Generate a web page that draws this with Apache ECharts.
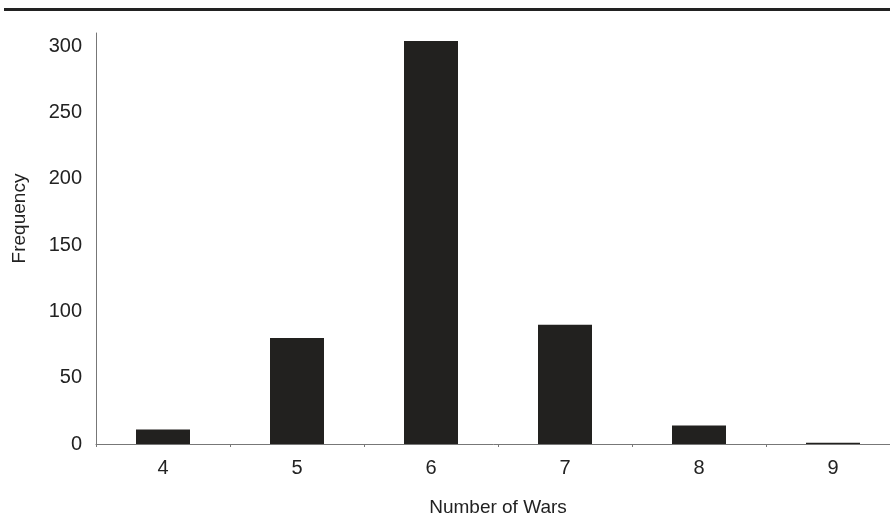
<!DOCTYPE html>
<html>
<head>
<meta charset="utf-8">
<script src="https://cdn.jsdelivr.net/npm/echarts@6/dist/echarts.min.js"></script>
<style>
html,body{margin:0;padding:0;background:#fff;}
#chart{width:890px;height:518px;}
</style>
</head>
<body>
<div id="chart"></div>
<script>
const categories = ['4', '5', '6', '7', '8', '9'];
const frequency = [11, 80, 304, 90, 14, 1];
const yTicks = [0, 50, 100, 150, 200, 250, 300];

const chart = echarts.init(document.getElementById('chart'), null, {renderer: 'canvas'});
const font = 'Liberation Sans, Arial, Helvetica, sans-serif';
chart.setOption({
  animation: false,
  graphic: [{
    type: 'rect',
    shape: {x: 4, y: 8, width: 890, height: 3},
    style: {fill: '#222'}
  }],
  grid: {left: 96, top: 33, width: 804, height: 411, containLabel: false, outerBoundsMode: 'none'},
  xAxis: {
    type: 'category',
    data: categories,
    name: 'Number of Wars',
    nameLocation: 'middle',
    nameGap: 54,
    nameTextStyle: {fontFamily: font, fontSize: 19, color: '#222'},
    axisLine: {lineStyle: {color: '#777', width: 1}},
    axisTick: {show: true, length: 3, inside: false, lineStyle: {color: '#777'}},
    axisLabel: {fontFamily: font, fontSize: 20, color: '#222', margin: 14}
  },
  yAxis: {
    type: 'value',
    min: 0,
    max: 310,
    interval: 50,
    name: 'Frequency',
    nameLocation: 'middle',
    nameGap: 67,
    nameRotate: 90,
    nameTextStyle: {fontFamily: font, fontSize: 19, color: '#222', padding: [0, 0, 0, 40]},
    axisLine: {show: true, lineStyle: {color: '#777', width: 1}},
    axisTick: {show: false},
    splitLine: {show: false},
    axisLabel: {
      fontFamily: font, fontSize: 20, color: '#222', margin: 14,
      showMaxLabel: false,
      formatter: function (v) { return yTicks.indexOf(v) >= 0 ? String(v) : ''; }
    }
  },
  series: [{
    type: 'bar',
    data: frequency,
    barWidth: 54,
    itemStyle: {color: '#22211f'}
  }]
});
</script>
</body>
</html>
